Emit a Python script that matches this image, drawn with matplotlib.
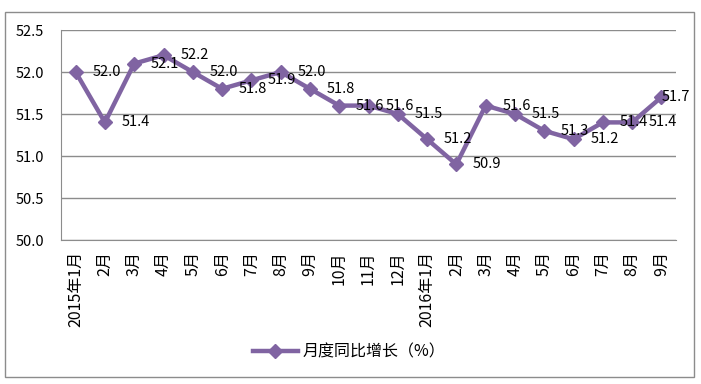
import matplotlib
matplotlib.use('Agg')
import matplotlib.pyplot as plt
from matplotlib.patches import Rectangle

plt.rcParams['font.family'] = ['Noto Sans CJK SC', 'DejaVu Sans']

# --- Data ---
months = ['2015年1月', '2月', '3月', '4月', '5月', '6月', '7月', '8月', '9月', '10月',
          '11月', '12月', '2016年1月', '2月', '3月', '4月', '5月', '6月', '7月', '8月', '9月']
values = [52.0, 51.4, 52.1, 52.2, 52.0, 51.8, 51.9, 52.0, 51.8, 51.6,
          51.6, 51.5, 51.2, 50.9, 51.6, 51.5, 51.3, 51.2, 51.4, 51.4, 51.7]
series_name = '月度同比增长（%）'
yticks = [50.0, 50.5, 51.0, 51.5, 52.0, 52.5]

color = '#8064A2'

fig = plt.figure(figsize=(7.01, 3.84), dpi=100)
ax = fig.add_axes([61 / 701, 1 - 240 / 384, (676 - 61) / 701, (240 - 30) / 384])

x = list(range(len(values)))
line, = ax.plot(x, values, color=color, linewidth=3.2, marker='D', markersize=7.5,
                label=series_name, zorder=3)

# data labels to the right of each point
for i, v in enumerate(values):
    dx = 12 if i < len(values) - 1 else 0
    ax.annotate(f'{v:.1f}', (i, v), xytext=(dx, 0), textcoords='offset points',
                ha='left', va='center', fontsize=10.5, color='#000000', zorder=4)

ax.set_xlim(-0.5, len(values) - 0.5)
ax.set_ylim(50.0, 52.5)
ax.set_yticks(yticks)
ax.set_yticklabels([f'{t:.1f}' for t in yticks], fontsize=10.5)
ax.set_xticks(x)
ax.set_xticklabels(months, rotation=90, fontsize=11.5, va='top')
ax.tick_params(axis='both', length=0, pad=8)
ax.tick_params(axis='y', pad=12)

ax.grid(axis='y', color='#8c8c8c', linewidth=1)
ax.set_axisbelow(True)
for side in ['top', 'right']:
    ax.spines[side].set_visible(False)
ax.spines['left'].set_color('#8c8c8c')
ax.spines['bottom'].set_color('#8c8c8c')

# outer chart border
fig.patches.append(Rectangle((5 / 701, 1 - 377 / 384), (694 - 5) / 701, (377 - 12) / 384,
                             transform=fig.transFigure, fill=False,
                             edgecolor='#8c8c8c', linewidth=1))

fig.legend(handles=[line], loc='center', bbox_to_anchor=(349 / 701, 1 - 352 / 384),
           frameon=False, fontsize=11.5, handlelength=2.8, borderpad=0, handletextpad=0.3)

fig.savefig('out.png', dpi=100)
